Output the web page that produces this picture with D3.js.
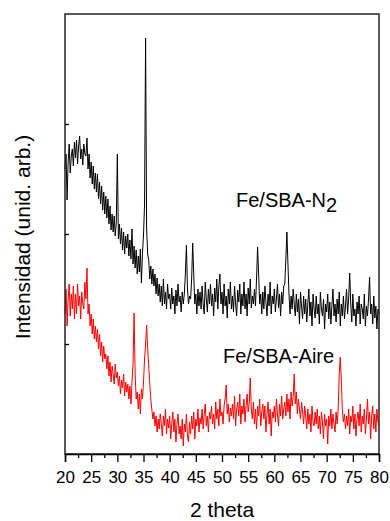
<!DOCTYPE html>
<html>
<head>
<meta charset="utf-8">
<script src="https://cdnjs.cloudflare.com/ajax/libs/d3/7.8.5/d3.min.js"></script>
<style>
  body { margin: 0; background: #fff; }
  text { font-family: Arial, "Liberation Sans", sans-serif; fill: #000; }
</style>
</head>
<body>
<div class="root"></div>
<script>
// 2 theta grid: 20 -> 80 deg, one reading every 0.2 deg
const angleStart = 20;
const angleStep = 0.2;

// Fe/SBA-N2 (black), intensity in arbitrary units, one row = 2 deg
const intN2 = [
  285, 300, 254, 292, 310, 281, 298, 305, 288, 312,
  296, 314, 290, 308, 318, 295, 305, 289, 310, 300,
  298, 316, 285, 300, 276, 292, 270, 288, 265, 281,
  262, 280, 255, 272, 250, 268, 244, 262, 240, 258,
  236, 255, 230, 248, 224, 240, 222, 238, 218, 232,
  300, 215, 230, 210, 226, 204, 222, 200, 218, 206,
  220, 198, 214, 195, 225, 190, 208, 186, 204, 180,
  198, 182, 205, 171, 200, 219, 250, 416, 225, 200,
  194, 175, 188, 170, 185, 168, 180, 160, 176, 158,
  170, 152, 168, 148, 175, 150, 162, 145, 170, 155,
  160, 145, 166, 150, 158, 140, 164, 148, 170, 152,
  158, 142, 162, 150, 160, 180, 209, 165, 150, 158,
  155, 175, 211, 180, 150, 160, 140, 165, 148, 162,
  145, 168, 150, 140, 172, 155, 142, 165, 150, 170,
  148, 160, 138, 166, 152, 175, 145, 168, 180, 150,
  162, 140, 170, 148, 158, 136, 165, 150, 172, 145,
  158, 142, 168, 150, 138, 164, 152, 170, 140, 160,
  148, 172, 145, 160, 138, 166, 150, 175, 146, 158,
  150, 165, 148, 175, 207, 180, 150, 160, 140, 162,
  145, 168, 152, 138, 160, 148, 172, 140, 158, 150,
  165, 142, 156, 170, 146, 160, 138, 162, 150, 168,
  170, 195, 222, 190, 160, 140, 158, 145, 165, 150,
  138, 160, 142, 155, 130, 162, 148, 135, 158, 140,
  155, 132, 150, 165, 138, 152, 128, 160, 145, 136,
  158, 140, 150, 130, 162, 145, 138, 155, 125, 150,
  142, 160, 135, 152, 130, 148, 165, 138, 150, 132,
  155, 140, 162, 128, 150, 138, 158, 135, 148, 165,
  140, 155, 181, 150, 132, 160, 138, 145, 128, 152,
  140, 158, 130, 150, 145, 135, 160, 128, 148, 138,
  155, 177, 140, 150, 130, 158, 136, 148, 125, 145,
  140
];

// Fe/SBA-Aire (red)
const intAire = [
  140, 165, 128, 155, 170, 138, 160, 145, 168, 135,
  160, 140, 170, 148, 158, 135, 162, 150, 145, 172,
  155, 186, 140, 150, 128, 140, 120, 135, 115, 128,
  112, 125, 105, 120, 98, 112, 92, 108, 95, 100,
  85, 98, 78, 92, 72, 88, 80, 70, 90, 76,
  82, 68, 78, 60, 74, 66, 80, 58, 72, 62,
  70, 55, 68, 50, 72, 90, 141, 80, 55, 62,
  45, 60, 40, 65, 55, 72, 95, 110, 129, 105,
  88, 70, 55, 44, 35, 42, 28, 38, 22, 35,
  25, 40, 30, 18, 38, 28, 45, 20, 35, 26,
  38, 15, 30, 42, 22, 35, 12, 30, 40, 20,
  28, 15, 35, 8, 30, 22, 40, 18, 12, 32,
  20, 38, 25, 42, 15, 35, 28, 45, 22, 36,
  30, 45, 25, 40, 50, 28, 38, 22, 42, 35,
  48, 30, 40, 25, 52, 35, 45, 28, 55, 38,
  42, 30, 48, 55, 69, 40, 50, 32, 46, 38,
  50, 35, 58, 28, 45, 52, 38, 60, 30, 48,
  40, 55, 32, 48, 60, 42, 50, 76, 45, 35,
  52, 30, 45, 25, 48, 38, 55, 28, 42, 50,
  35, 48, 22, 40, 52, 30, 45, 18, 42, 36,
  48, 32, 55, 40, 28, 50, 38, 58, 35, 45,
  52, 38, 60, 42, 55, 35, 62, 48, 58, 80,
  50, 62, 40, 55, 45, 35, 52, 42, 30, 48,
  38, 25, 45, 30, 40, 22, 48, 32, 28, 42,
  30, 45, 25, 38, 20, 42, 32, 15, 40, 28,
  35, 10, 38, 28, 45, 25, 40, 30, 22, 42,
  30, 45, 80, 97, 74, 44, 32, 40, 25, 38,
  28, 45, 20, 38, 32, 48, 25, 40, 18, 35,
  42, 28, 50, 22, 38, 30, 45, 20, 36, 55,
  30, 42, 15, 38, 48, 25, 40, 22, 45, 32,
  28
];

const xTicks = [20, 25, 30, 35, 40, 45, 50, 55, 60, 65, 70, 75, 80];
const xMinor = [22.5, 27.5, 32.5, 37.5, 42.5, 47.5, 52.5, 57.5, 62.5, 67.5, 72.5, 77.5];
const yTicks = [110, 220, 330];

const w = 390;
const h = 521;
const padL = 65, padR = 379, padT = 14, padB = 454;

const svg = d3.select(".root")
              .append("svg")
              .attr("width", w)
              .attr("height", h);

const xScale = d3.scaleLinear()
                 .domain([20, 80])
                 .range([padL, padR]);

const yScale = d3.scaleLinear()
                 .domain([0, 440])
                 .range([padB, padT]);

const toPoints = (arr) => arr.map((v, i) => [angleStart + i * angleStep, v]);

const line = d3.line()
               .x((d) => xScale(d[0]))
               .y((d) => yScale(d[1]));

// traces
svg.append("path")
   .datum(toPoints(intN2))
   .attr("fill", "none")
   .attr("stroke", "#000")
   .attr("stroke-width", 1)
   .attr("d", line);

svg.append("path")
   .datum(toPoints(intAire))
   .attr("fill", "none")
   .attr("stroke", "#ff0000")
   .attr("stroke-width", 1)
   .attr("d", line);

// frame
svg.append("rect")
   .attr("x", padL)
   .attr("y", padT)
   .attr("width", padR - padL)
   .attr("height", padB - padT)
   .attr("fill", "none")
   .attr("stroke", "#222")
   .attr("stroke-width", 1.5);

// x axis, major + minor
const xAxis = d3.axisBottom(xScale)
                .tickValues(xTicks)
                .tickSize(8)
                .tickPadding(9)
                .tickFormat(d3.format("d"));

const gx = svg.append("g")
   .attr("transform", "translate(0," + padB + ")")
   .call(xAxis);
gx.select(".domain").attr("stroke-width", 1.5);
gx.selectAll(".tick line").attr("stroke-width", 1.3);
gx.selectAll("text")
  .style("font-size", "17px")
  .style("font-family", "Arial, 'Liberation Sans', sans-serif");

svg.append("g")
   .attr("transform", "translate(0," + padB + ")")
   .call(d3.axisBottom(xScale).tickValues(xMinor).tickSize(4).tickFormat(""))
   .call((g) => g.select(".domain").remove())
   .selectAll(".tick line").attr("stroke-width", 1.3);

// y axis: inward ticks, no labels
svg.append("g")
   .attr("transform", "translate(" + padL + ",0)")
   .call(d3.axisLeft(yScale).tickValues(yTicks).tickSize(-4).tickFormat(""))
   .call((g) => g.select(".domain").remove())
   .selectAll(".tick line").attr("stroke-width", 1.3);

// labels
svg.append("text")
   .attr("x", (padL + padR) / 2)
   .attr("y", 517)
   .attr("text-anchor", "middle")
   .style("font-size", "21px")
   .text("2 theta");

svg.append("text")
   .attr("text-anchor", "middle")
   .attr("transform", "translate(30," + ((padT + padB) / 2 + 3) + ")rotate(-90)")
   .style("font-size", "21px")
   .text("Intensidad (unid. arb.)");

const n2Label = svg.append("text")
   .attr("x", 236)
   .attr("y", 207)
   .style("font-size", "20px")
   .text("Fe/SBA-N");
n2Label.append("tspan")
   .attr("dy", 5)
   .text("2");

svg.append("text")
   .attr("x", 223)
   .attr("y", 363)
   .style("font-size", "20px")
   .text("Fe/SBA-Aire");
</script>
</body>
</html>
